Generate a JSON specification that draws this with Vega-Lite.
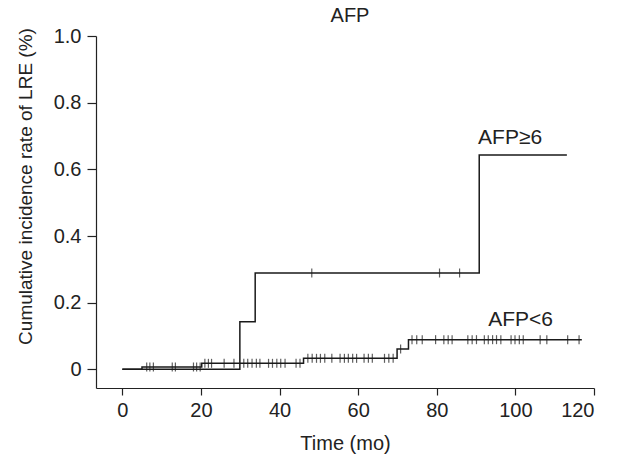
{
  "$schema": "https://vega.github.io/schema/vega-lite/v6.json",
  "width": 498,
  "height": 352,
  "autosize": {"type": "none"},
  "padding": {"left": 96, "top": 36, "right": 27, "bottom": 69},
  "title": {"text": "AFP", "fontSize": 20, "fontWeight": "normal", "font": "Liberation Sans", "color": "#222", "offset": 9, "dx": 5, "dy": 9},
  "config": {
    "view": {"stroke": null},
    "font": "Liberation Sans",
    "axis": {"grid": false, "domainColor": "#222", "tickColor": "#222", "labelColor": "#222", "titleColor": "#222", "labelFontSize": 20, "titleFontSize": 20, "titleFontWeight": "normal", "labelFont": "Liberation Sans", "titleFont": "Liberation Sans", "domainWidth": 1.2, "tickWidth": 1.2}
  },
  "datasets": {
    "curves": [
      {"group": "AFP≥6", "t": 0, "value": 0},
      {"group": "AFP≥6", "t": 29.9, "value": 0.143},
      {"group": "AFP≥6", "t": 33.8, "value": 0.289},
      {"group": "AFP≥6", "t": 90.8, "value": 0.643},
      {"group": "AFP≥6", "t": 113.1, "value": 0.643},
      {"group": "AFP<6", "t": 0, "value": 0},
      {"group": "AFP<6", "t": 5.0, "value": 0.007},
      {"group": "AFP<6", "t": 20.2, "value": 0.018},
      {"group": "AFP<6", "t": 46.1, "value": 0.033},
      {"group": "AFP<6", "t": 69.9, "value": 0.061},
      {"group": "AFP<6", "t": 72.8, "value": 0.089},
      {"group": "AFP<6", "t": 116.9, "value": 0.089}
    ],
    "censor": [
      {"group": "AFP≥6", "t": 48.2, "value": 0.289},
      {"group": "AFP≥6", "t": 80.7, "value": 0.289},
      {"group": "AFP≥6", "t": 85.8, "value": 0.289},
      {"group": "AFP<6", "t": 6.2, "value": 0.007},
      {"group": "AFP<6", "t": 7.0, "value": 0.007},
      {"group": "AFP<6", "t": 7.9, "value": 0.007},
      {"group": "AFP<6", "t": 12.7, "value": 0.007},
      {"group": "AFP<6", "t": 13.5, "value": 0.007},
      {"group": "AFP<6", "t": 18.1, "value": 0.007},
      {"group": "AFP<6", "t": 18.9, "value": 0.007},
      {"group": "AFP<6", "t": 19.8, "value": 0.007},
      {"group": "AFP<6", "t": 21.0, "value": 0.018},
      {"group": "AFP<6", "t": 21.9, "value": 0.018},
      {"group": "AFP<6", "t": 22.7, "value": 0.018},
      {"group": "AFP<6", "t": 25.9, "value": 0.018},
      {"group": "AFP<6", "t": 28.4, "value": 0.018},
      {"group": "AFP<6", "t": 30.9, "value": 0.018},
      {"group": "AFP<6", "t": 31.9, "value": 0.018},
      {"group": "AFP<6", "t": 33.0, "value": 0.018},
      {"group": "AFP<6", "t": 34.1, "value": 0.018},
      {"group": "AFP<6", "t": 35.0, "value": 0.018},
      {"group": "AFP<6", "t": 37.2, "value": 0.018},
      {"group": "AFP<6", "t": 38.2, "value": 0.018},
      {"group": "AFP<6", "t": 39.3, "value": 0.018},
      {"group": "AFP<6", "t": 40.3, "value": 0.018},
      {"group": "AFP<6", "t": 41.4, "value": 0.018},
      {"group": "AFP<6", "t": 44.2, "value": 0.018},
      {"group": "AFP<6", "t": 45.2, "value": 0.018},
      {"group": "AFP<6", "t": 47.2, "value": 0.033},
      {"group": "AFP<6", "t": 48.3, "value": 0.033},
      {"group": "AFP<6", "t": 49.4, "value": 0.033},
      {"group": "AFP<6", "t": 50.4, "value": 0.033},
      {"group": "AFP<6", "t": 51.5, "value": 0.033},
      {"group": "AFP<6", "t": 53.3, "value": 0.033},
      {"group": "AFP<6", "t": 55.4, "value": 0.033},
      {"group": "AFP<6", "t": 56.5, "value": 0.033},
      {"group": "AFP<6", "t": 57.5, "value": 0.033},
      {"group": "AFP<6", "t": 58.6, "value": 0.033},
      {"group": "AFP<6", "t": 59.6, "value": 0.033},
      {"group": "AFP<6", "t": 61.5, "value": 0.033},
      {"group": "AFP<6", "t": 62.6, "value": 0.033},
      {"group": "AFP<6", "t": 63.6, "value": 0.033},
      {"group": "AFP<6", "t": 66.7, "value": 0.033},
      {"group": "AFP<6", "t": 67.8, "value": 0.033},
      {"group": "AFP<6", "t": 68.9, "value": 0.033},
      {"group": "AFP<6", "t": 70.8, "value": 0.061},
      {"group": "AFP<6", "t": 73.7, "value": 0.089},
      {"group": "AFP<6", "t": 74.9, "value": 0.089},
      {"group": "AFP<6", "t": 76.3, "value": 0.089},
      {"group": "AFP<6", "t": 79.7, "value": 0.089},
      {"group": "AFP<6", "t": 81.8, "value": 0.089},
      {"group": "AFP<6", "t": 82.9, "value": 0.089},
      {"group": "AFP<6", "t": 83.9, "value": 0.089},
      {"group": "AFP<6", "t": 87.9, "value": 0.089},
      {"group": "AFP<6", "t": 89.0, "value": 0.089},
      {"group": "AFP<6", "t": 90.1, "value": 0.089},
      {"group": "AFP<6", "t": 92.1, "value": 0.089},
      {"group": "AFP<6", "t": 93.1, "value": 0.089},
      {"group": "AFP<6", "t": 94.2, "value": 0.089},
      {"group": "AFP<6", "t": 95.2, "value": 0.089},
      {"group": "AFP<6", "t": 96.3, "value": 0.089},
      {"group": "AFP<6", "t": 98.9, "value": 0.089},
      {"group": "AFP<6", "t": 99.9, "value": 0.089},
      {"group": "AFP<6", "t": 101.0, "value": 0.089},
      {"group": "AFP<6", "t": 102.0, "value": 0.089},
      {"group": "AFP<6", "t": 106.3, "value": 0.089},
      {"group": "AFP<6", "t": 108.0, "value": 0.089},
      {"group": "AFP<6", "t": 113.3, "value": 0.089},
      {"group": "AFP<6", "t": 116.2, "value": 0.089}
    ],
    "labels": [
      {"label": "AFP≥6", "t": 90.5, "value": 0.677},
      {"label": "AFP<6", "t": 93.1, "value": 0.13}
    ]
  },
  "layer": [
    {
      "data": {"name": "curves"},
      "mark": {"type": "line", "interpolate": "step-after", "color": "#1a1a1a", "strokeWidth": 1.5},
      "encoding": {
        "x": {"field": "t", "type": "quantitative", "scale": {"domain": [-6.7, 120], "nice": false, "zero": false},
          "axis": {"values": [0, 20, 40, 60, 80, 100, 120], "title": "Time (mo)", "tickSize": 7, "labelPadding": 5, "titlePadding": 13}},
        "y": {"field": "value", "type": "quantitative", "scale": {"domain": [-0.056, 1.0], "nice": false, "zero": false},
          "axis": {"values": [0, 0.2, 0.4, 0.6, 0.8, 1.0], "labelExpr": "datum.value == 0 ? '0' : format(datum.value, '.1f')", "title": "Cumulative incidence rate of LRE (%)", "titleFontSize": 19, "tickSize": 9, "labelPadding": 6, "titleX": -61, "titleY": 150}},
        "detail": {"field": "group"}
      }
    },
    {
      "data": {"name": "censor"},
      "mark": {"type": "tick", "orient": "vertical", "color": "#1a1a1a", "size": 9, "thickness": 1.2},
      "encoding": {
        "x": {"field": "t", "type": "quantitative"},
        "y": {"field": "value", "type": "quantitative"}
      }
    },
    {
      "data": {"name": "labels"},
      "mark": {"type": "text", "align": "left", "baseline": "alphabetic", "fontSize": 21, "color": "#222", "font": "Liberation Sans"},
      "encoding": {
        "x": {"field": "t", "type": "quantitative"},
        "y": {"field": "value", "type": "quantitative"},
        "text": {"field": "label"}
      }
    }
  ]
}
